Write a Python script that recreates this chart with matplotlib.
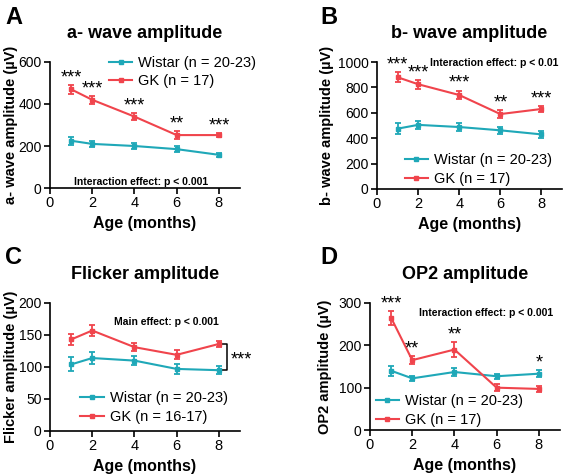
import numpy as np
import matplotlib
matplotlib.use("Agg")
import matplotlib.pyplot as plt
from matplotlib.lines import Line2D

plt.rcParams['font.family'] = ['Liberation Sans', 'DejaVu Sans']

# ages (months)
age = [1, 2, 4, 6, 8]

# A: a-wave
a_wistar = [225, 210, 200, 185, 158]
a_wistar_err = [20, 15, 15, 15, 10]
a_gk = [470, 420, 340, 252, 252]
a_gk_err = [22, 20, 15, 18, 10]
a_stars = ['***', '***', '***', '**', '***']

# B: b-wave
b_wistar = [475, 505, 488, 462, 430]
b_wistar_err = [45, 30, 30, 30, 25]
b_gk = [880, 825, 740, 590, 630]
b_gk_err = [40, 35, 35, 30, 25]
b_stars = ['***', '***', '***', '**', '***']

# C: flicker
c_wistar = [104, 114, 110, 97, 95]
c_wistar_err = [11, 9, 7, 8, 6]
c_gk = [143, 157, 131, 119, 136]
c_gk_err = [8, 9, 6, 7, 5]

# D: OP2
d_wistar = [140, 122, 137, 127, 133]
d_wistar_err = [12, 6, 10, 6, 8]
d_gk = [265, 165, 190, 100, 97]
d_gk_err = [17, 10, 18, 8, 8]
d_stars = ['***', '**', '**', '', '*']

TEAL = '#1fa8b8'
RED = '#f0444c'

fig = plt.figure(figsize=(5.7, 4.75), dpi=100)
W, H = 570., 475.


def make_ax(x0, y_top, x1, y_bot):
    return fig.add_axes([x0 / W, 1 - y_bot / H, (x1 - x0) / W, (y_bot - y_top) / H])


def style(ax, title, ylabel, ymax, ystep, label_x):
    ax.set_xlim(0, 9)
    ax.set_ylim(0, ymax)
    ax.set_xticks([0, 2, 4, 6, 8])
    ax.set_yticks(np.arange(0, ymax + 1, ystep))
    ax.spines['top'].set_visible(False)
    ax.spines['right'].set_visible(False)
    for s in ['left', 'bottom']:
        ax.spines[s].set_linewidth(1.2)
    ax.tick_params(direction='out', length=4, width=1.2, labelsize=10.5, pad=2)
    ax.tick_params(axis='y', labelsize=10)
    ax.set_title(title, fontsize=13, fontweight='bold', pad=17)
    ax.set_ylabel(ylabel + ' (\u00b5V)', fontsize=10.5, fontweight='bold')
    ax.yaxis.set_label_coords(label_x, 0.5)
    ax.set_xlabel('Age (months)', fontsize=11.5, fontweight='bold', labelpad=4)


def plot_series(ax, wistar, werr, gk, gerr):
    for vals, err, col in [(wistar, werr, TEAL), (gk, gerr, RED)]:
        ax.errorbar(age, vals, yerr=err, color=col, marker='s', ms=3, lw=1.5,
                    capsize=2.5, elinewidth=1.3, capthick=1.3)


def add_stars(ax, tops, stars):
    for x, t, s in zip(age, tops, stars):
        if s:
            ax.annotate(s, (x, t), xytext=(0, -1), textcoords='offset points',
                        ha='center', va='bottom', fontsize=13)


def legend(ax, x, y, lab_w, lab_g):
    handles = [Line2D([], [], color=TEAL, marker='s', ms=3, lw=1.5),
               Line2D([], [], color=RED, marker='s', ms=3, lw=1.5)]
    ax.legend(handles, [lab_w, lab_g], loc='upper left', bbox_to_anchor=(x, y),
              frameon=False, fontsize=10.5, handlelength=1.6, handletextpad=0.4,
              labelspacing=0.3, borderpad=0, borderaxespad=0)


# ---- A
axA = make_ax(50, 62, 240, 188)
style(axA, 'a- wave amplitude', 'a- wave amplitude', 600, 200, -0.17)
plot_series(axA, a_wistar, a_wistar_err, a_gk, a_gk_err)
add_stars(axA, np.add(a_gk, a_gk_err), a_stars)
axA.text(4.3, 30, 'Interaction effect: p < 0.001', ha='center', va='center',
         fontsize=7.5, fontweight='bold')
legend(axA, 0.31, 1.05, 'Wistar (n = 20-23)', 'GK (n = 17)')

# ---- B
axB = make_ax(377, 62, 562, 189)
style(axB, 'b- wave amplitude', 'b- wave amplitude', 1000, 200, -0.23)
plot_series(axB, b_wistar, b_wistar_err, b_gk, b_gk_err)
add_stars(axB, np.add(b_gk, b_gk_err), b_stars)
axB.text(5.7, 995, 'Interaction effect: p < 0.01', ha='center', va='center',
         fontsize=7.5, fontweight='bold')
legend(axB, 0.15, 0.28, 'Wistar (n = 20-23)', 'GK (n = 17)')

# ---- C
axC = make_ax(50, 303, 240, 431)
style(axC, 'Flicker amplitude', 'Flicker amplitude', 200, 50, -0.17)
plot_series(axC, c_wistar, c_wistar_err, c_gk, c_gk_err)
axC.text(5.5, 170, 'Main effect: p < 0.001', ha='center', va='center',
         fontsize=7.5, fontweight='bold')
# bracket for main effect
bx = 8.4
axC.plot([bx - 0.25, bx, bx, bx - 0.25], [c_gk[-1], c_gk[-1], c_wistar[-1], c_wistar[-1]],
         color='black', lw=1.1, clip_on=False)
axC.text(bx + 0.15, (c_gk[-1] + c_wistar[-1]) / 2 - 4, '***', ha='left', va='center',
         fontsize=13, clip_on=False)
legend(axC, 0.16, 0.31, 'Wistar (n = 20-23)', 'GK (n = 16-17)')

# ---- D
axD = make_ax(370, 303, 560, 430)
style(axD, 'OP2 amplitude', 'OP2 amplitude', 300, 100, -0.2)
plot_series(axD, d_wistar, d_wistar_err, d_gk, d_gk_err)
d_tops = [max(g + ge, w + we) for g, ge, w, we in zip(d_gk, d_gk_err, d_wistar, d_wistar_err)]
add_stars(axD, d_tops, d_stars)
axD.text(5.5, 277, 'Interaction effect: p < 0.001', ha='center', va='center',
         fontsize=7.5, fontweight='bold')
legend(axD, 0.03, 0.28, 'Wistar (n = 20-23)', 'GK (n = 17)')

# panel letters
for lab, x, y in [('A', 5, 18), ('B', 320, 18), ('C', 5, 258), ('D', 320, 258)]:
    fig.text(x / W, 1 - y / H, lab, fontsize=17, fontweight='bold', ha='left', va='center')

fig.savefig('out.png', dpi=100)
